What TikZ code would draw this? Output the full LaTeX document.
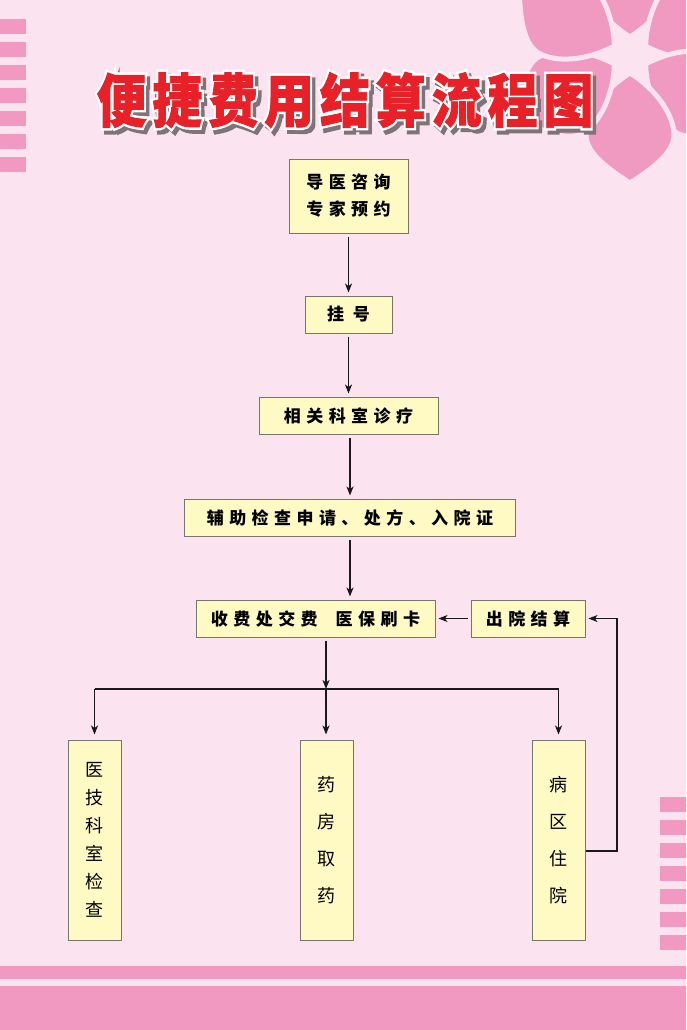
\documentclass[tikz,border=0pt]{standalone}
\usepackage{fontspec}
\newfontfamily\cjk{Noto Sans CJK SC}[LetterSpace=32]
\newfontfamily\cjkv{Noto Sans CJK SC}
\newfontfamily\titlefont{Noto Sans CJK SC}[BoldFeatures={FakeBold=1.5}, LetterSpace=12]
\newfontfamily\titleoutline{Noto Sans CJK SC}[BoldFeatures={FakeBold=10}, LetterSpace=12]
\usetikzlibrary{arrows.meta}
\definecolor{bgc}{RGB}{251,228,240}
\definecolor{stripec}{RGB}{241,153,192}
\definecolor{petalc}{RGB}{240,154,194}
\definecolor{boxfill}{RGB}{255,249,196}
\definecolor{boxdraw}{RGB}{118,118,108}
\definecolor{titlered}{RGB}{232,32,40}
\definecolor{shadowc}{RGB}{125,115,120}
\definecolor{linec}{RGB}{25,25,25}
\begin{document}
\begin{tikzpicture}[x=1pt,y=-1pt,
  flowbox/.style={draw=boxdraw, line width=1pt, fill=boxfill, inner sep=0pt,
     font=\cjk\bfseries\fontsize{17}{27}\selectfont, align=center},
  vbox/.style={draw=boxdraw, line width=1pt, fill=boxfill, inner sep=0pt,
     minimum width=53pt, minimum height=200pt, align=center},
  arr/.style={draw=linec, line width=1.4pt, -{Stealth[length=9pt,width=7pt,inset=2.5pt]}},
  plainline/.style={draw=linec, line width=1.4pt},
  petal/.pic={\filldraw[fill=petalc, draw=bgc, line width=5pt, line join=round]
      (18,0) .. controls (34,26) and (60,44) .. (80,44)
      .. controls (98,44) and (114,22) .. (128,0)
      .. controls (114,-22) and (98,-44) .. (80,-44)
      .. controls (60,-44) and (34,-26) .. (18,0) -- cycle;},
  titletext/.style={font=\titlefont\bfseries\fontsize{58}{58}\selectfont, xscale=0.86, inner sep=0pt},
  titleback/.style={font=\titleoutline\bfseries\fontsize{58}{58}\selectfont, xscale=0.86, inner sep=0pt}
]
\useasboundingbox (0,0) rectangle (686,1030);
\fill[bgc] (0,0) rectangle (686,1030);
% left stripes
\foreach \yy in {19,42,65,88,111,134,157}
  \fill[stripec] (0,\yy) rectangle (26,\yy+15);
% right stripes
\foreach \yy in {797,820,843,866,889,912,935}
  \fill[stripec] (660,\yy) rectangle (686,\yy+15);
% bottom stripes
\fill[stripec] (0,966) rectangle (686,979);
\fill[stripec] (0,986) rectangle (686,1030);
% flower
\begin{scope}
\clip (0,0) rectangle (686,1030);
\foreach \ang in {90,30,-30,270,210,150}
  \pic[rotate=\ang] at (630,55) {petal};
\end{scope}
% title
\coordinate (T) at (345,100);
\node[titleback, text=shadowc, shift={(4,4)}] at (T) {便捷费用结算流程图};
\node[titleback, text=white] at (T) {便捷费用结算流程图};
\node[titletext, text=titlered] (title) at (T) {便捷费用结算流程图};
% boxes
\node[flowbox, minimum width=119pt, minimum height=74pt] (n1) at (348.5,196) {导医咨询\\专家预约};
\node[flowbox, minimum width=87pt, minimum height=37pt] (n2) at (348.5,314.5) {挂\hspace{9pt}号};
\node[flowbox, minimum width=179pt, minimum height=37pt] (n3) at (348.5,415.5) {相关科室诊疗};
\node[flowbox, minimum width=331pt, minimum height=37pt] (n4) at (350,517.5) {辅助检查申请、处方、入院证};
\node[flowbox, minimum width=239pt, minimum height=37pt] (n5) at (315.5,618.5) {收费处交费\hspace{18pt}医保刷卡};
\node[flowbox, minimum width=114pt, minimum height=37pt] (n6) at (528,618.5) {出院结算};
\node[vbox, font=\cjkv\fontsize{18}{28}\selectfont] (b1) at (94.5,840) {医\\技\\科\\室\\检\\查};
\node[vbox, font=\cjkv\fontsize{18}{37}\selectfont] (b2) at (326.5,840) {药\\房\\取\\药};
\node[vbox, font=\cjkv\fontsize{18}{37}\selectfont] (b3) at (558.5,840) {病\\区\\住\\院};
% connectors
\draw[arr, shorten <=3pt, shorten >=3pt] (n1.south) -- (n2.north);
\draw[arr, shorten <=3pt, shorten >=3pt] (n2.south) -- (n3.north);
\draw[arr, shorten <=3pt, shorten >=3pt] (n4.north |- n3.south) -- (n4.north);
\draw[arr, shorten <=3pt, shorten >=3pt] (n4.south) -- (n4.south |- n5.north);
\coordinate (j) at (326,689);
\draw[arr, shorten <=3pt] (n5.south -| j) -- (j);
\draw[plainline] (b1.north |- j) -- (b3.north |- j);
\draw[arr, shorten >=5pt] (b1.north |- j) -- (b1.north);
\draw[arr, shorten >=5pt] (j) -- (j |- b2.north);
\draw[arr, shorten >=5pt] (b3.north |- j) -- (b3.north);
\draw[arr, shorten <=3pt, shorten >=3pt] (n6.west) -- (n5.east);
\coordinate (loop) at (617,851);
\draw[arr, shorten >=3pt] (b3.east |- loop) -- (loop) |- (n6.east);
\end{tikzpicture}
\end{document}
